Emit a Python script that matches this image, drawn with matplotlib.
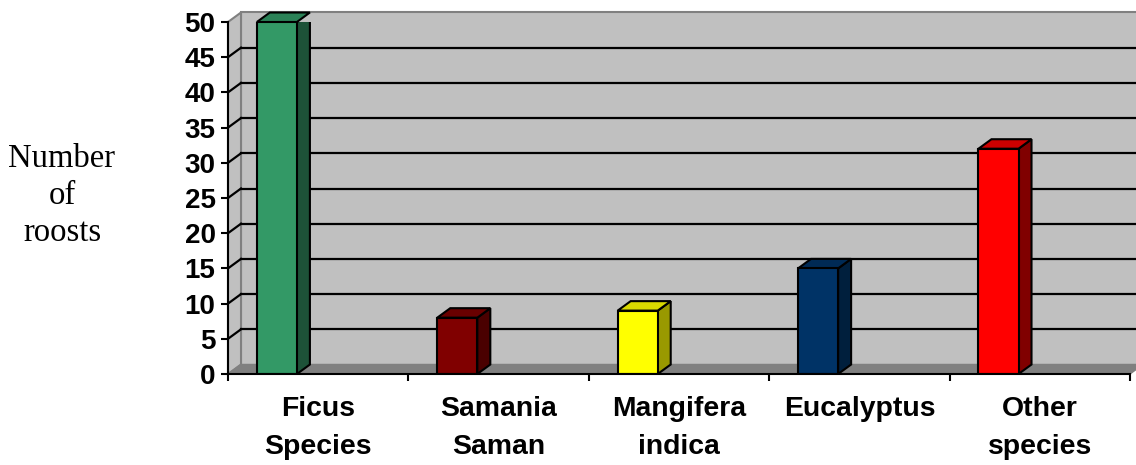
import matplotlib.pyplot as plt
from matplotlib.patches import Polygon
import numpy as np

# tree species used as roosts
especies = ['Ficus\nSpecies', 'Samania\nSaman', 'Mangifera\nindica', 'Eucalyptus', 'Other\nspecies']
roosts = [50, 8, 9, 15, 32]
cor_frente = ['#339966', '#800000', '#ffff00', '#003366', '#ff0000']
cor_lado = ['#1d5238', '#4a0000', '#999900', '#001f3d', '#800000']
cor_topo = ['#2b8257', '#6a0000', '#d9d900', '#002a55', '#cc0000']
yticks = list(range(0, 51, 5))

fig = plt.figure(figsize=(11.36, 4.65), dpi=100)
ax = fig.add_axes([228/1136, 91/465, 902/1136, 352/465])
ax.set_xlim(0, 5)
ax.set_ylim(0, 50)
ax.patch.set_visible(False)

# profundidade do efeito 3D (em unidades dos dados)
dx = 13/180.4
dy = 9.5/7.04

# paredes e chao
parede = Polygon([(dx, dy), (5+dx, dy), (5+dx, 50+dy), (dx, 50+dy)], closed=True,
                 facecolor='#c0c0c0', edgecolor='#808080', lw=1.5, clip_on=False, zorder=0)
lateral = Polygon([(0, 0), (dx, dy), (dx, 50+dy), (0, 50)], closed=True,
                  facecolor='#c0c0c0', edgecolor='#808080', lw=1.5, clip_on=False, zorder=0)
chao = Polygon([(0, 0), (5, 0), (5+dx, dy), (dx, dy)], closed=True,
               facecolor='#808080', edgecolor='#808080', lw=1, clip_on=False, zorder=0.5)
ax.add_patch(parede)
ax.add_patch(lateral)
ax.add_patch(chao)

# linhas de grade
for v in yticks[1:-1]:
    ax.plot([dx, 5+dx], [v+dy, v+dy], color='black', lw=1.6, clip_on=False, zorder=1)
    ax.plot([0, dx], [v, v+dy], color='black', lw=1.6, clip_on=False, zorder=1)

# barras
pos = np.arange(5) + 0.16
larg = 0.222
ax.bar(pos, roosts, width=larg, align='edge', color=cor_frente, edgecolor='black', lw=1.5, zorder=3)
for p, v, cl, ct in zip(pos, roosts, cor_lado, cor_topo):
    lado = Polygon([(p+larg, 0), (p+larg+dx, dy), (p+larg+dx, v+dy), (p+larg, v)], closed=True,
                   facecolor=cl, edgecolor='black', lw=1.5, zorder=2.9)
    topo = Polygon([(p, v), (p+larg, v), (p+larg+dx, v+dy), (p+dx, v+dy)], closed=True,
                   facecolor=ct, edgecolor='black', lw=1.5, clip_on=False, zorder=2.9)
    ax.add_patch(lado)
    ax.add_patch(topo)

# eixos
for s in ['top', 'right']:
    ax.spines[s].set_visible(False)
for s in ['left', 'bottom']:
    ax.spines[s].set_linewidth(1.5)
    ax.spines[s].set_zorder(4)
ax.set_yticks(yticks)
ax.set_yticklabels([str(v) for v in yticks], fontsize=20, fontweight='bold', family='Liberation Sans')
ax.set_xticks(range(6))
ax.set_xticklabels([])
ax.set_xticks(np.arange(5) + 0.5, minor=True)
ax.set_xticklabels(especies, minor=True, fontsize=20.4, fontweight='bold', family='Liberation Sans',
                   linespacing=1.6)
ax.tick_params(axis='y', length=5, width=1.5, pad=4)
ax.tick_params(axis='x', which='major', length=5, width=1.5)
ax.tick_params(axis='x', which='minor', length=0, pad=16)

fig.text(62/1136, 1-196/465, 'Number\nof\nroosts', ha='center', va='center', fontsize=23.5,
         family='Liberation Serif', linespacing=1.28)

plt.savefig('out.png', dpi=100)
